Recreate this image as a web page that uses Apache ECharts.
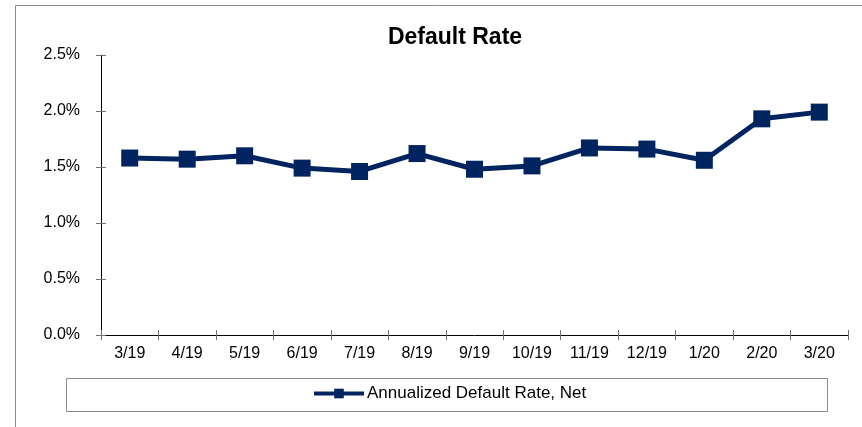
<!DOCTYPE html>
<html>
<head>
<meta charset="utf-8">
<script src="https://cdn.jsdelivr.net/npm/echarts@6/dist/echarts.min.js"></script>
<style>
  html, body { margin: 0; padding: 0; background: #fff; }
  #chart { width: 862px; height: 427px; }
</style>
</head>
<body>
<div id="chart"></div>
<script>
  // 数据
  let months = ['3/19', '4/19', '5/19', '6/19', '7/19', '8/19', '9/19', '10/19', '11/19', '12/19', '1/20', '2/20', '3/20']
  let defaultRate = [1.58, 1.57, 1.60, 1.49, 1.46, 1.62, 1.48, 1.51, 1.67, 1.66, 1.56, 1.93, 1.99]
  let seriesName = 'Annualized Default Rate, Net'

  let navy = '#00245f'
  let font = 'Liberation Sans, Arial, sans-serif'
  let chart = echarts.init(document.getElementById('chart'))

  let option = {
    animation: false,
    backgroundColor: '#fff',
    title: {
      text: 'Default Rate',
      left: 450,
      textAlign: 'center',
      top: 21,
      textStyle: { fontFamily: font, fontSize: 23, fontWeight: 'bold', color: '#000' }
    },
    grid: { left: 101, right: 14, top: 55, bottom: 92 },
    legend: {
      data: [seriesName],
      left: 312,
      top: 385,
      padding: 0,
      itemWidth: 50,
      itemHeight: 12,
      itemStyle: { color: navy },
      lineStyle: { width: 4, color: navy },
      textStyle: { fontFamily: font, fontSize: 17, color: '#000', padding: [0, 0, 0, -2] }
    },
    graphic: [
      { // 外框
        type: 'rect',
        shape: { x: 15.5, y: 5.5, width: 900, height: 500 },
        style: { fill: 'none', stroke: '#8c8c8c', lineWidth: 1 },
        silent: true
      },
      { // 图例框
        type: 'rect',
        shape: { x: 66.5, y: 378.5, width: 761, height: 33 },
        style: { fill: 'none', stroke: '#8c8c8c', lineWidth: 1 },
        silent: true
      }
    ],
    xAxis: [{
      type: 'category',
      data: months,
      boundaryGap: true,
      axisLine: { lineStyle: { color: '#000', width: 1 } },
      axisTick: { show: true, length: 5, lineStyle: { color: '#707070' } },
      axisLabel: { color: '#000', fontFamily: font, fontSize: 16, margin: 11 },
      splitLine: { show: false }
    }, {
      // 向内的刻度
      type: 'category',
      data: months,
      position: 'bottom',
      boundaryGap: true,
      axisLine: { show: false },
      axisTick: { show: true, inside: true, length: 5, lineStyle: { color: '#707070' } },
      axisLabel: { show: false },
      splitLine: { show: false }
    }],
    yAxis: [{
      type: 'value',
      min: 0,
      max: 2.5,
      interval: 0.5,
      axisLine: { show: true, lineStyle: { color: '#000', width: 1 } },
      axisTick: { show: true, length: 5, lineStyle: { color: '#707070' } },
      axisLabel: {
        color: '#000', fontFamily: font, fontSize: 16, margin: 21,
        formatter: function(v) { return v.toFixed(1) + '%' }
      },
      splitLine: { show: false }
    }, {
      type: 'value',
      position: 'left',
      min: 0,
      max: 2.5,
      interval: 0.5,
      axisLine: { show: false },
      axisTick: { show: true, inside: true, length: 5, lineStyle: { color: '#707070' } },
      axisLabel: { show: false },
      splitLine: { show: false }
    }],
    series: [{
      name: seriesName,
      type: 'line',
      data: defaultRate,
      symbol: 'rect',
      symbolSize: 17,
      itemStyle: { color: navy },
      lineStyle: { color: navy, width: 5 }
    }]
  }

  chart.setOption(option)
  window.onresize = chart.resize
</script>
</body>
</html>
